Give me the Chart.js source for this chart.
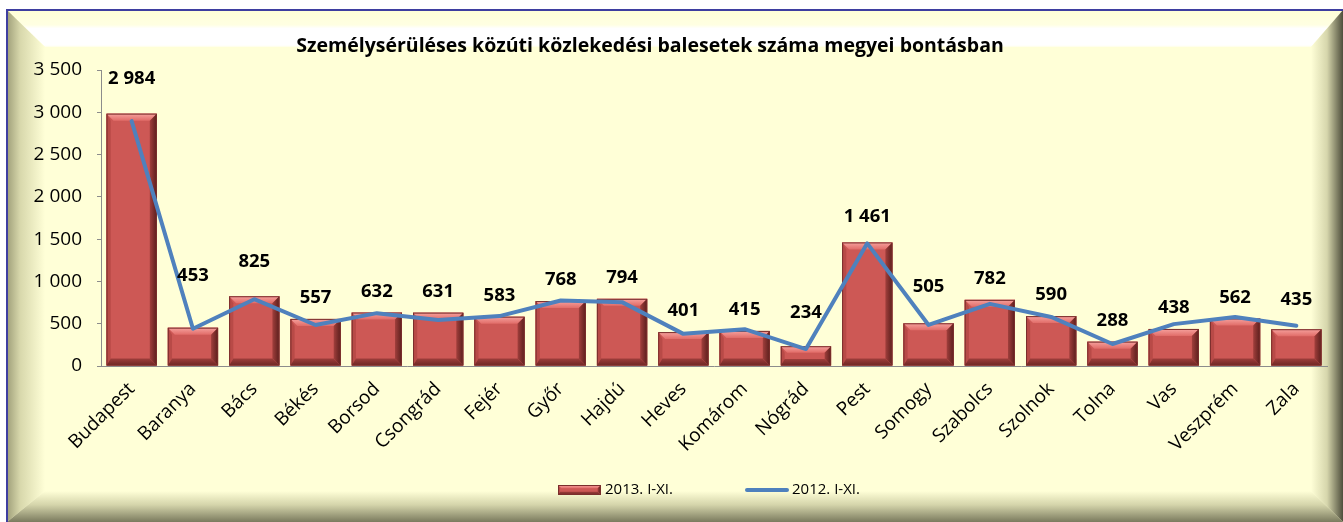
<!DOCTYPE html>
<html>
<head>
<meta charset="utf-8">
<script src="https://cdn.jsdelivr.net/npm/chart.js@4.4.1/dist/chart.umd.min.js"></script>
<style>
    html, body { margin: 0; padding: 0; background: #ffffff; }
    #wrap { width: 1343px; height: 522px; position: relative; }
</style>
</head>
<body>
<div id="wrap"><canvas id="accidentChart"></canvas></div>
<script>
const categories = ["Budapest", "Baranya", "Bács", "Békés", "Borsod", "Csongrád", "Fejér", "Győr", "Hajdú", "Heves",
    "Komárom", "Nógrád", "Pest", "Somogy", "Szabolcs", "Szolnok", "Tolna", "Vas", "Veszprém", "Zala"];
const values2013 = [2984, 453, 825, 557, 632, 631, 583, 768, 794, 401, 415, 234, 1461, 505, 782, 590, 288, 438, 562, 435];
const values2012 = [2895, 440, 790, 485, 625, 545, 590, 775, 755, 380, 435, 200, 1450, 485, 735, 580, 260, 495, 580, 475];
const yTicks = [0, 500, 1000, 1500, 2000, 2500, 3000, 3500];
const seriesNames = ["2013. I-XI.", "2012. I-XI."];
const chartTitle = "Személysérüléses közúti közlekedési balesetek száma megyei bontásban";

const FONT = "'Open Sans', 'Liberation Sans', sans-serif";

function formatNum(v) {
    return String(v).replace(/\B(?=(\d{3})+(?!\d))/g, " ");
}

// draws one bevelled red bar
function bevelBar(ctx, l, t, r, b) {
    const h = b - t, w = r - l;
    const bv = Math.max(2, Math.min(7, h / 3, w / 5));
    ctx.save();
    ctx.fillStyle = "#CD5855";
    ctx.fillRect(l, t, w, h);

    let g = ctx.createLinearGradient(0, t, 0, t + bv);
    g.addColorStop(0, "#F6A29E");
    g.addColorStop(1, "#E16C68");
    ctx.fillStyle = g;
    ctx.beginPath();
    ctx.moveTo(l, t); ctx.lineTo(r, t); ctx.lineTo(r - bv, t + bv); ctx.lineTo(l + bv, t + bv);
    ctx.closePath(); ctx.fill();

    ctx.fillStyle = "#B84A47";
    ctx.beginPath();
    ctx.moveTo(l, t); ctx.lineTo(l + bv * 0.6, t + bv); ctx.lineTo(l + bv * 0.6, b - bv); ctx.lineTo(l, b);
    ctx.closePath(); ctx.fill();

    g = ctx.createLinearGradient(r - bv, 0, r, 0);
    g.addColorStop(0, "#A13F3C");
    g.addColorStop(1, "#5A1E1C");
    ctx.fillStyle = g;
    ctx.beginPath();
    ctx.moveTo(r, t); ctx.lineTo(r, b); ctx.lineTo(r - bv, b - bv); ctx.lineTo(r - bv, t + bv);
    ctx.closePath(); ctx.fill();

    g = ctx.createLinearGradient(0, b - bv, 0, b);
    g.addColorStop(0, "#9E3E3B");
    g.addColorStop(1, "#6E2624");
    ctx.fillStyle = g;
    ctx.beginPath();
    ctx.moveTo(l, b); ctx.lineTo(r, b); ctx.lineTo(r - bv, b - bv); ctx.lineTo(l + bv * 0.6, b - bv);
    ctx.closePath(); ctx.fill();

    ctx.strokeStyle = "#7A2E2C";
    ctx.lineWidth = 1;
    ctx.strokeRect(l + 0.5, t + 0.5, w - 1, h - 1);
    ctx.restore();
}

const framePlugin = {
    id: "frame",
    beforeDraw(chart) {
        const ctx = chart.ctx;
        const X0 = 7, Y0 = 10, X1 = 1343, Y1 = 522;
        const IX0 = 45, IY0 = 47, IX1 = 1311, IY1 = 491;
        ctx.save();
        ctx.fillStyle = "#ffffff";
        ctx.fillRect(0, 0, chart.width, chart.height);
        ctx.fillStyle = "#FFFFD7";
        ctx.fillRect(X0, Y0, X1 - X0, Y1 - Y0);

        // top bevel
        let g = ctx.createLinearGradient(0, Y0, 0, IY0);
        g.addColorStop(0, "#FFFFD7");
        g.addColorStop(0.4, "#FFFFE2");
        g.addColorStop(0.5, "#ffffff");
        g.addColorStop(0.95, "#ffffff");
        g.addColorStop(1, "#FFFFE6");
        ctx.fillStyle = g;
        ctx.beginPath();
        ctx.moveTo(X0, Y0); ctx.lineTo(X1, Y0); ctx.lineTo(IX1, IY0); ctx.lineTo(IX0, IY0);
        ctx.closePath(); ctx.fill();

        // left bevel
        g = ctx.createLinearGradient(X0, 0, IX0, 0);
        g.addColorStop(0, "#A0A07A");
        g.addColorStop(0.35, "#D8D8AC");
        g.addColorStop(1, "#FFFFD7");
        ctx.fillStyle = g;
        ctx.beginPath();
        ctx.moveTo(X0, Y0); ctx.lineTo(IX0, IY0); ctx.lineTo(IX0, IY1); ctx.lineTo(X0, Y1);
        ctx.closePath(); ctx.fill();

        // right bevel
        g = ctx.createLinearGradient(IX1, 0, X1, 0);
        g.addColorStop(0, "#FFFFD7");
        g.addColorStop(0.5, "#D6D6AC");
        g.addColorStop(1, "#4E4E3C");
        ctx.fillStyle = g;
        ctx.beginPath();
        ctx.moveTo(X1, Y0); ctx.lineTo(X1, Y1); ctx.lineTo(IX1, IY1); ctx.lineTo(IX1, IY0);
        ctx.closePath(); ctx.fill();

        // bottom bevel
        g = ctx.createLinearGradient(0, IY1, 0, Y1);
        g.addColorStop(0, "#FFFFD7");
        g.addColorStop(0.45, "#D4D4AA");
        g.addColorStop(1, "#7A7A5E");
        ctx.fillStyle = g;
        ctx.beginPath();
        ctx.moveTo(X0, Y1); ctx.lineTo(IX0, IY1); ctx.lineTo(IX1, IY1); ctx.lineTo(X1, Y1);
        ctx.closePath(); ctx.fill();

        // blue outline
        ctx.strokeStyle = "#3E3EA0";
        ctx.lineWidth = 2;
        ctx.beginPath();
        ctx.moveTo(X1, Y0); ctx.lineTo(X0, Y0); ctx.lineTo(X0, Y1);
        ctx.stroke();

        // title
        ctx.fillStyle = "#000000";
        ctx.font = "bold 19.5px " + FONT;
        ctx.textAlign = "center";
        ctx.textBaseline = "middle";
        ctx.fillText(chartTitle, 650, 46);
        ctx.restore();
    },
    afterDatasetDraw(chart, args) {
        if (args.index !== 1) return;
        const ctx = chart.ctx;
        args.meta.data.forEach(bar => {
            const p = bar.getProps(["x", "y", "base", "width"], true);
            bevelBar(ctx, p.x - p.width / 2, p.y, p.x + p.width / 2, p.base);
        });
    },
    afterDraw(chart, args, opts) {
        const ctx = chart.ctx;
        const bars = chart.getDatasetMeta(1).data;
        ctx.save();
        ctx.fillStyle = "#000000";
        ctx.font = "bold 18.5px " + FONT;
        ctx.textAlign = "center";
        ctx.textBaseline = "middle";
        bars.forEach((bar, i) => {
            const lift = opts.extraLift[categories[i]] || 0;
            ctx.fillText(formatNum(values2013[i]), bar.x, bar.y - 21 - lift);
        });

        // legend
        ctx.font = "15px " + FONT;
        ctx.textAlign = "left";
        bevelBar(ctx, 558, 485, 601, 495);
        ctx.fillStyle = "#000000";
        ctx.fillText(seriesNames[0], 605, 490);
        ctx.strokeStyle = "#4F81BD";
        ctx.lineWidth = 4;
        ctx.lineCap = "round";
        ctx.beginPath();
        ctx.moveTo(747, 490); ctx.lineTo(787, 490);
        ctx.stroke();
        ctx.fillText(seriesNames[1], 792, 490);
        ctx.restore();
    }
};

const ctx = document.getElementById("accidentChart").getContext("2d");
new Chart(ctx, {
    type: "bar",
    data: {
        labels: categories,
        datasets: [{
            type: "line",
            label: seriesNames[1],
            data: values2012,
            borderColor: "#4F81BD",
            borderWidth: 4,
            pointRadius: 0,
            borderJoinStyle: "round",
            borderCapStyle: "round",
            tension: 0,
            order: 1
        }, {
            type: "bar",
            label: seriesNames[0],
            data: values2013,
            backgroundColor: "#CD5855",
            barPercentage: 0.82,
            categoryPercentage: 1,
            order: 2
        }]
    },
    options: {
        responsive: true,
        maintainAspectRatio: false,
        animation: false,
        layout: { padding: { top: 70, left: 0, right: 16, bottom: 0 } },
        plugins: {
            legend: { display: false },
            title: { display: false },
            tooltip: { enabled: false },
            frame: { extraLift: { "Budapest": 14, "Baranya": 31, "Bács": 13, "Nógrád": 12, "Somogy": 16, "Pest": 5, "Zala": 8 } }
        },
        scales: {
            x: {
                grid: { display: false },
                border: { display: true, color: "#8C8C8C", width: 1 },
                ticks: {
                    autoSkip: false,
                    minRotation: 45,
                    maxRotation: 45,
                    color: "#000000",
                    padding: 4,
                    font: { family: FONT, size: 19 }
                },
                afterFit(scale) { scale.height = 156; }
            },
            y: {
                min: 0,
                max: 3500,
                afterBuildTicks(scale) { scale.ticks = yTicks.map(v => ({ value: v })); },
                grid: { display: true, drawOnChartArea: false, drawTicks: true, tickLength: 4, color: "#8C8C8C" },
                border: { display: true, color: "#8C8C8C", width: 1 },
                ticks: {
                    color: "#000000",
                    padding: 15,
                    font: { family: FONT, size: 19 },
                    callback: v => formatNum(v)
                },
                afterFit(scale) { scale.width = 101; }
            }
        }
    },
    plugins: [framePlugin]
});
</script>
</body>
</html>
